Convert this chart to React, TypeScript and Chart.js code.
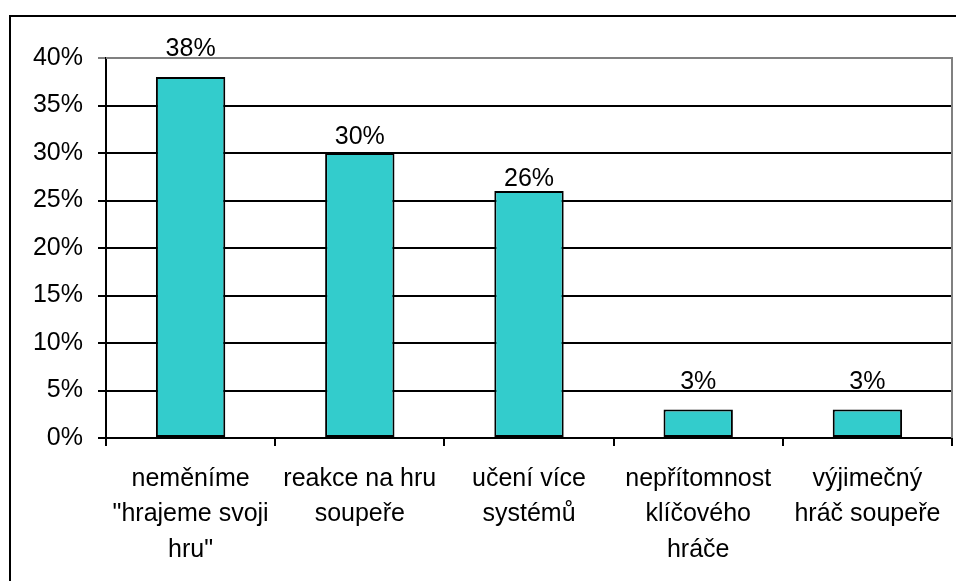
import React, { useEffect, useRef } from "react";
import { Chart, registerables } from "chart.js";

Chart.register(...registerables);

const categories: string[][] = [
  ["neměníme", "\"hrajeme svoji", "hru\""],
  ["reakce na hru", "soupeře"],
  ["učení více", "systémů"],
  ["nepřítomnost", "klíčového", "hráče"],
  ["výjimečný", "hráč soupeře"],
];
const values: number[] = [38, 30, 26, 3, 3];
const yMin = 0;
const yMax = 40;
const yStep = 5;

const FONT = "'Liberation Sans', Arial, sans-serif";
// gap (px) between bar top and label baseline, as placed in the original
const LABEL_GAPS = [21, 9, 5, 21, 21];

const framePlugin = {
  id: "frame",
  beforeDraw(chart: any) {
    const ctx = chart.ctx;
    ctx.save();
    ctx.fillStyle = "#ffffff";
    ctx.fillRect(0, 0, chart.width, chart.height);
    ctx.strokeStyle = "#000000";
    ctx.lineWidth = 2;
    ctx.strokeRect(10, 16, 2000, 2000);
    ctx.restore();
  },
  afterDraw(chart: any) {
    const { ctx, chartArea } = chart;
    ctx.save();
    ctx.strokeStyle = "#808080";
    ctx.lineWidth = 2;
    ctx.beginPath();
    ctx.moveTo(chartArea.left, Math.round(chartArea.top));
    ctx.lineTo(Math.round(chartArea.right), Math.round(chartArea.top));
    ctx.lineTo(Math.round(chartArea.right), Math.round(chartArea.bottom));
    ctx.stroke();
    ctx.restore();
  },
};

const labelPlugin = {
  id: "barLabels",
  afterDatasetsDraw(chart: any) {
    const ctx = chart.ctx;
    const meta = chart.getDatasetMeta(0);
    ctx.save();
    ctx.fillStyle = "#000000";
    ctx.font = `25px ${FONT}`;
    ctx.textAlign = "center";
    ctx.textBaseline = "alphabetic";
    meta.data.forEach((bar: any, i: number) => {
      ctx.fillText(values[i] + "%", bar.x, bar.y - LABEL_GAPS[i]);
    });
    ctx.restore();
  },
};

export default function App() {
  const ref = useRef<HTMLCanvasElement | null>(null);

  useEffect(() => {
    document.body.style.margin = "0";
    if (!ref.current) return;
    const chart = new Chart(ref.current, {
      type: "bar",
      data: {
        labels: categories,
        datasets: [
          {
            data: values,
            backgroundColor: "#33CCCC",
            borderColor: "#000000",
            borderWidth: 2,
            borderSkipped: false,
            categoryPercentage: 1,
            barPercentage: 0.41,
          },
        ],
      },
      options: {
        responsive: false,
        animation: false,
        devicePixelRatio: 1,
        layout: { padding: { top: 58, right: 4, left: 0, bottom: 0 } },
        plugins: {
          legend: { display: false },
          tooltip: { enabled: false },
          title: { display: false },
        },
        scales: {
          x: {
            offset: true,
            afterFit(scale: any) {
              scale.height = 143;
            },
            grid: {
              offset: true,
              drawOnChartArea: false,
              drawTicks: true,
              tickLength: 8,
              color: "#000000",
              lineWidth: 2,
            },
            border: { display: true, color: "#000000", width: 2 },
            ticks: {
              color: "#000000",
              font: { family: FONT, size: 25, lineHeight: 1.42 },
              padding: 15,
              maxRotation: 0,
              autoSkip: false,
            },
          },
          y: {
            min: yMin,
            max: yMax,
            afterFit(scale: any) {
              scale.width = 106;
            },
            grid: {
              drawOnChartArea: true,
              drawTicks: true,
              tickLength: 8,
              color: (c: any) => (c.tick && c.tick.value === yMax ? "#808080" : "#000000"),
              lineWidth: 2,
            },
            border: { display: true, color: "#000000", width: 2 },
            ticks: {
              stepSize: yStep,
              color: "#000000",
              font: { family: FONT, size: 25 },
              padding: 15,
              callback: (v: any) => v + "%",
            },
          },
        },
      },
      plugins: [framePlugin, labelPlugin],
    });
    return () => chart.destroy();
  }, []);

  return (
    <div style={{ width: 956, height: 581, position: "relative" }}>
      <canvas ref={ref} width={956} height={581} style={{ width: 956, height: 581, display: "block" }} />
    </div>
  );
}
